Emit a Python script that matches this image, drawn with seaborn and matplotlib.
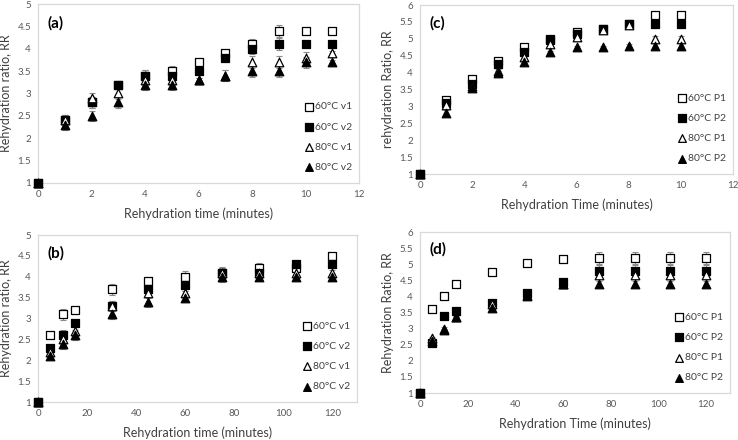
import matplotlib
matplotlib.use('Agg')
import matplotlib.pyplot as plt
import matplotlib.ticker as mticker
import numpy as np
import pandas as pd
import seaborn as sns

### Data
time_a = [0, 1, 2, 3, 4, 5, 6, 7, 8, 9, 10, 11]
a_60v1 = [1, 2.4, 2.8, 3.2, 3.4, 3.5, 3.7, 3.9, 4.1, 4.4, 4.4, 4.4]
a_60v2 = [1, 2.4, 2.8, 3.2, 3.4, 3.4, 3.5, 3.8, 4.0, 4.1, 4.1, 4.1]
a_80v1 = [1, 2.4, 2.9, 3.0, 3.3, 3.3, 3.3, 3.4, 3.7, 3.7, 3.8, 3.9]
a_80v2 = [1, 2.3, 2.5, 2.8, 3.2, 3.2, 3.3, 3.4, 3.5, 3.5, 3.7, 3.7]
a_err60 = [0, 0.12, 0.12, 0.05, 0.12, 0.12, 0.05, 0.08, 0.12, 0.13, 0.05, 0.05]
a_err80 = [0, 0.12, 0.12, 0.12, 0.12, 0.12, 0.05, 0.13, 0.13, 0.13, 0.12, 0.05]

time_c = [0, 1, 2, 3, 4, 5, 6, 7, 8, 9, 10]
c_60p1 = [1, 3.2, 3.8, 4.35, 4.75, 5.0, 5.2, 5.3, 5.45, 5.7, 5.7]
c_60p2 = [1, 3.1, 3.65, 4.25, 4.6, 4.95, 5.15, 5.28, 5.45, 5.45, 5.45]
c_80p1 = [1, 3.05, 3.6, 4.05, 4.45, 4.85, 5.05, 5.25, 5.4, 5.0, 5.0]
c_80p2 = [1, 2.8, 3.55, 4.0, 4.3, 4.6, 4.75, 4.75, 4.8, 4.8, 4.8]
c_err60 = [0, 0.05, 0.05, 0.05, 0.05, 0.05, 0.05, 0.05, 0.05, 0.05, 0.05]
c_err80 = [0, 0.08, 0.05, 0.05, 0.08, 0.05, 0.05, 0.05, 0.05, 0.08, 0.08]

time_b = [0, 5, 10, 15, 30, 45, 60, 75, 90, 105, 120]
b_60v1 = [1, 2.6, 3.1, 3.2, 3.7, 3.9, 4.0, 4.1, 4.2, 4.2, 4.5]
b_60v2 = [1, 2.3, 2.6, 2.9, 3.3, 3.7, 3.8, 4.1, 4.1, 4.3, 4.3]
b_80v1 = [1, 2.2, 2.5, 2.7, 3.3, 3.6, 3.6, 4.1, 4.1, 4.1, 4.1]
b_80v2 = [1, 2.1, 2.4, 2.6, 3.1, 3.4, 3.5, 4.0, 4.0, 4.0, 4.0]
b_err60 = [0, 0.05, 0.13, 0.05, 0.13, 0.05, 0.13, 0.12, 0.12, 0.05, 0.05]
b_err80 = [0, 0.08, 0.12, 0.12, 0.12, 0.12, 0.05, 0.13, 0.08, 0.05, 0.05]

time_d = [0, 5, 10, 15, 30, 45, 60, 75, 90, 105, 120]
d_60p1 = [1, 3.6, 4.0, 4.4, 4.75, 5.05, 5.15, 5.2, 5.2, 5.2, 5.2]
d_60p2 = [1, 2.55, 3.4, 3.55, 3.8, 4.1, 4.45, 4.8, 4.8, 4.8, 4.8]
d_80p1 = [1, 2.7, 3.0, 3.35, 3.75, 4.05, 4.4, 4.65, 4.65, 4.65, 4.65]
d_80p2 = [1, 2.6, 2.95, 3.35, 3.65, 4.0, 4.4, 4.4, 4.4, 4.4, 4.4]
d_err60 = [0, 0.05, 0.05, 0.05, 0.05, 0.05, 0.05, 0.18, 0.18, 0.18, 0.18]
d_err80 = [0, 0.05, 0.05, 0.05, 0.05, 0.05, 0.05, 0.08, 0.08, 0.08, 0.08]

labels_v = ['60°C v1', '60°C v2', '80°C v1', '80°C v2']
labels_p = ['60°C P1', '60°C P2', '80°C P1', '80°C P2']

### Style
sns.set_style('white')
plt.rcParams['font.family'] = ['Lato', 'DejaVu Sans']

TICK_COL = '#595959'
LABEL_COL = '#404040'
FRAME_COL = '#d9d9d9'

# open square, filled square, open triangle, filled triangle
STYLES = [('s', 'white'), ('s', 'black'), ('^', 'white'), ('^', 'black')]


def drawPanel(ax, t, series, errs, labels, xmax, xstep, ymax, xlabel, ylabel, tag):
    """
    Draws one panel: error bars, markers, legend, axes
    """
    for i, (vals, lab) in enumerate(zip(series, labels)):
        err = errs[0] if i < 2 else errs[1]
        ax.errorbar(t, vals, yerr=err, fmt='none', ecolor='#8c8c8c',
                    elinewidth=0.8, capsize=2, capthick=0.8, zorder=2)
        df = pd.DataFrame({'t': t, 'rr': vals})
        m, fc = STYLES[i]
        sns.scatterplot(data=df, x='t', y='rr', marker=m, s=32 if m == 's' else 38,
                        facecolor=fc, edgecolor='black', linewidth=0.9,
                        label=lab, ax=ax, zorder=3, clip_on=False)

    ax.set_xlim(0, xmax)
    ax.set_ylim(1, ymax)
    ax.xaxis.set_major_locator(mticker.MultipleLocator(xstep))
    ax.yaxis.set_major_locator(mticker.MultipleLocator(0.5))
    ax.yaxis.set_major_formatter(mticker.FormatStrFormatter('%g'))
    ax.tick_params(axis='both', length=0, labelsize=7, labelcolor=TICK_COL, pad=5)
    for sp in ax.spines.values():
        sp.set_color(FRAME_COL)
        sp.set_linewidth(0.9)
    ax.set_xlabel(xlabel, fontsize=9, color=LABEL_COL, labelpad=6)
    ax.set_ylabel(ylabel, fontsize=9, color=LABEL_COL, labelpad=4)
    ax.text(0.03, 0.89, tag, transform=ax.transAxes, fontsize=11,
            fontweight='bold', color='black', va='center')
    leg = ax.legend(loc='lower right', bbox_to_anchor=(1.0, 0.02), frameon=False,
                    fontsize=7.5, labelspacing=1.05, handlelength=0.8,
                    handletextpad=0.15, borderaxespad=0.3, markerscale=0.9)
    for txt in leg.get_texts():
        txt.set_color(LABEL_COL)


def main():
    fig = plt.figure(figsize=(7.38, 4.40), dpi=100)
    W, H = 738.0, 440.0

    def box(l, t, r, b):
        return [l / W, 1 - b / H, (r - l) / W, (b - t) / H]

    ax_a = fig.add_axes(box(38, 4, 359, 183))
    ax_c = fig.add_axes(box(420, 5, 733, 174))
    ax_b = fig.add_axes(box(38, 235, 357, 402))
    ax_d = fig.add_axes(box(420, 232, 730, 393))

    drawPanel(ax_a, time_a, [a_60v1, a_60v2, a_80v1, a_80v2], [a_err60, a_err80],
              labels_v, 12, 2, 5, 'Rehydration time (minutes)', 'Rehydration ratio, RR', '(a)')
    drawPanel(ax_c, time_c, [c_60p1, c_60p2, c_80p1, c_80p2], [c_err60, c_err80],
              labels_p, 12, 2, 6, 'Rehydration Time (minutes)', 'rehydration Ratio, RR', '(c)')
    drawPanel(ax_b, time_b, [b_60v1, b_60v2, b_80v1, b_80v2], [b_err60, b_err80],
              labels_v, 130, 20, 5, 'Rehydration time (minutes)', 'Rehydration ratio, RR', '(b)')
    drawPanel(ax_d, time_d, [d_60p1, d_60p2, d_80p1, d_80p2], [d_err60, d_err80],
              labels_p, 130, 20, 6, 'Rehydration Time (minutes)', 'Rehydration Ratio, RR', '(d)')

    fig.savefig('out.png', dpi=100)


if __name__ == '__main__':
    main()
